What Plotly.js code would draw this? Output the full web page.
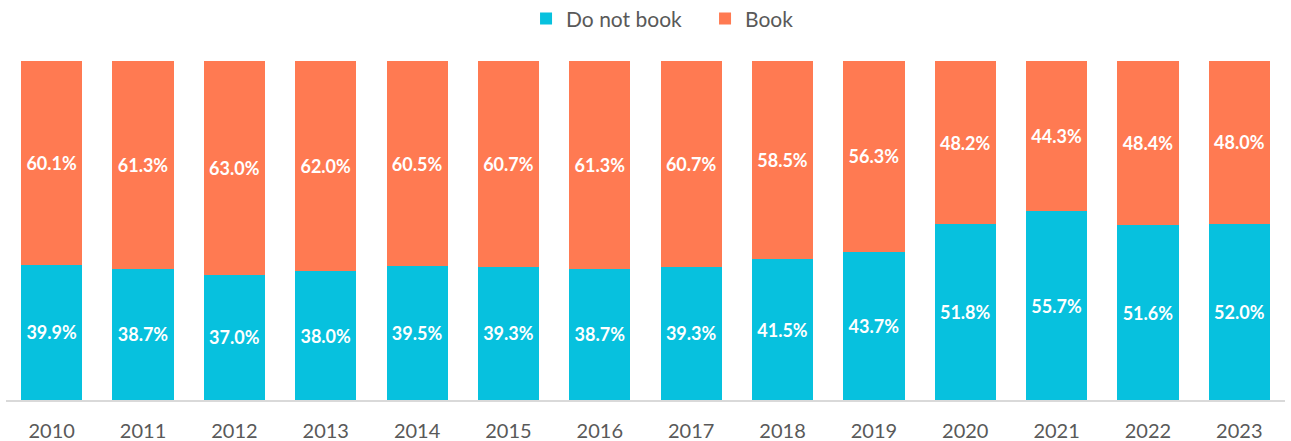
<!DOCTYPE html>
<html><head><meta charset="utf-8">
<script src="https://cdn.plot.ly/plotly-3.0.1.min.js"></script>
<style>html,body{margin:0;padding:0;background:#fff}#chart{width:1291px;height:441px}</style>
</head><body><div id="chart"></div>
<script>
const years = ['2010','2011','2012','2013','2014','2015','2016','2017','2018','2019','2020','2021','2022','2023'];
const doNotBook = [39.9,38.7,37.0,38.0,39.5,39.3,38.7,39.3,41.5,43.7,51.8,55.7,51.6,52.0];
const book = [60.1,61.3,63.0,62.0,60.5,60.7,61.3,60.7,58.5,56.3,48.2,44.3,48.4,48.0];
const seriesNames = ['Do not book','Book'];
const colors = ['#07C1DE','#FF7A52'];
const fontFam = 'Lato, "Open Sans", sans-serif';
function mk(name, vals, color){
  return {type:'bar', name:name, x:years, y:vals, marker:{color:color},
    text: vals.map(v=>v.toFixed(1)+'%'), textposition:'inside', insidetextanchor:'middle',
    textangle:0, constraintext:'none',
    textfont:{color:'#ffffff', size:18, family:fontFam, weight:'bold'},
    hoverinfo:'skip'};
}
const data = [mk(seriesNames[0], doNotBook, colors[0]), mk(seriesNames[1], book, colors[1])];
const layout = {
  width:1291, height:441, barmode:'stack', bargap:0.33,
  margin:{l:6,r:6,t:61,b:41, autoexpand:false},
  paper_bgcolor:'#fff', plot_bgcolor:'#fff',
  showlegend:true,
  legend:{orientation:'h', x:0.4066, xanchor:'left', yref:'container', y:0.957, yanchor:'middle',
    entrywidth:134, entrywidthmode:'pixels',
    font:{size:21, color:'#595959', family:fontFam}, traceorder:'normal'},
  xaxis:{type:'category', showgrid:false, showline:true, linecolor:'#D9D9D9', linewidth:1.5,
    ticks:'', ticklabelstandoff:12, tickfont:{size:20, color:'#595959', family:fontFam}, fixedrange:true, automargin:false},
  yaxis:{range:[0,100], visible:false, showgrid:false, zeroline:false, fixedrange:true},
  uniformtext:{mode:false}
};
Plotly.newPlot('chart', data, layout, {displayModeBar:false, staticPlot:true});
</script></body></html>
